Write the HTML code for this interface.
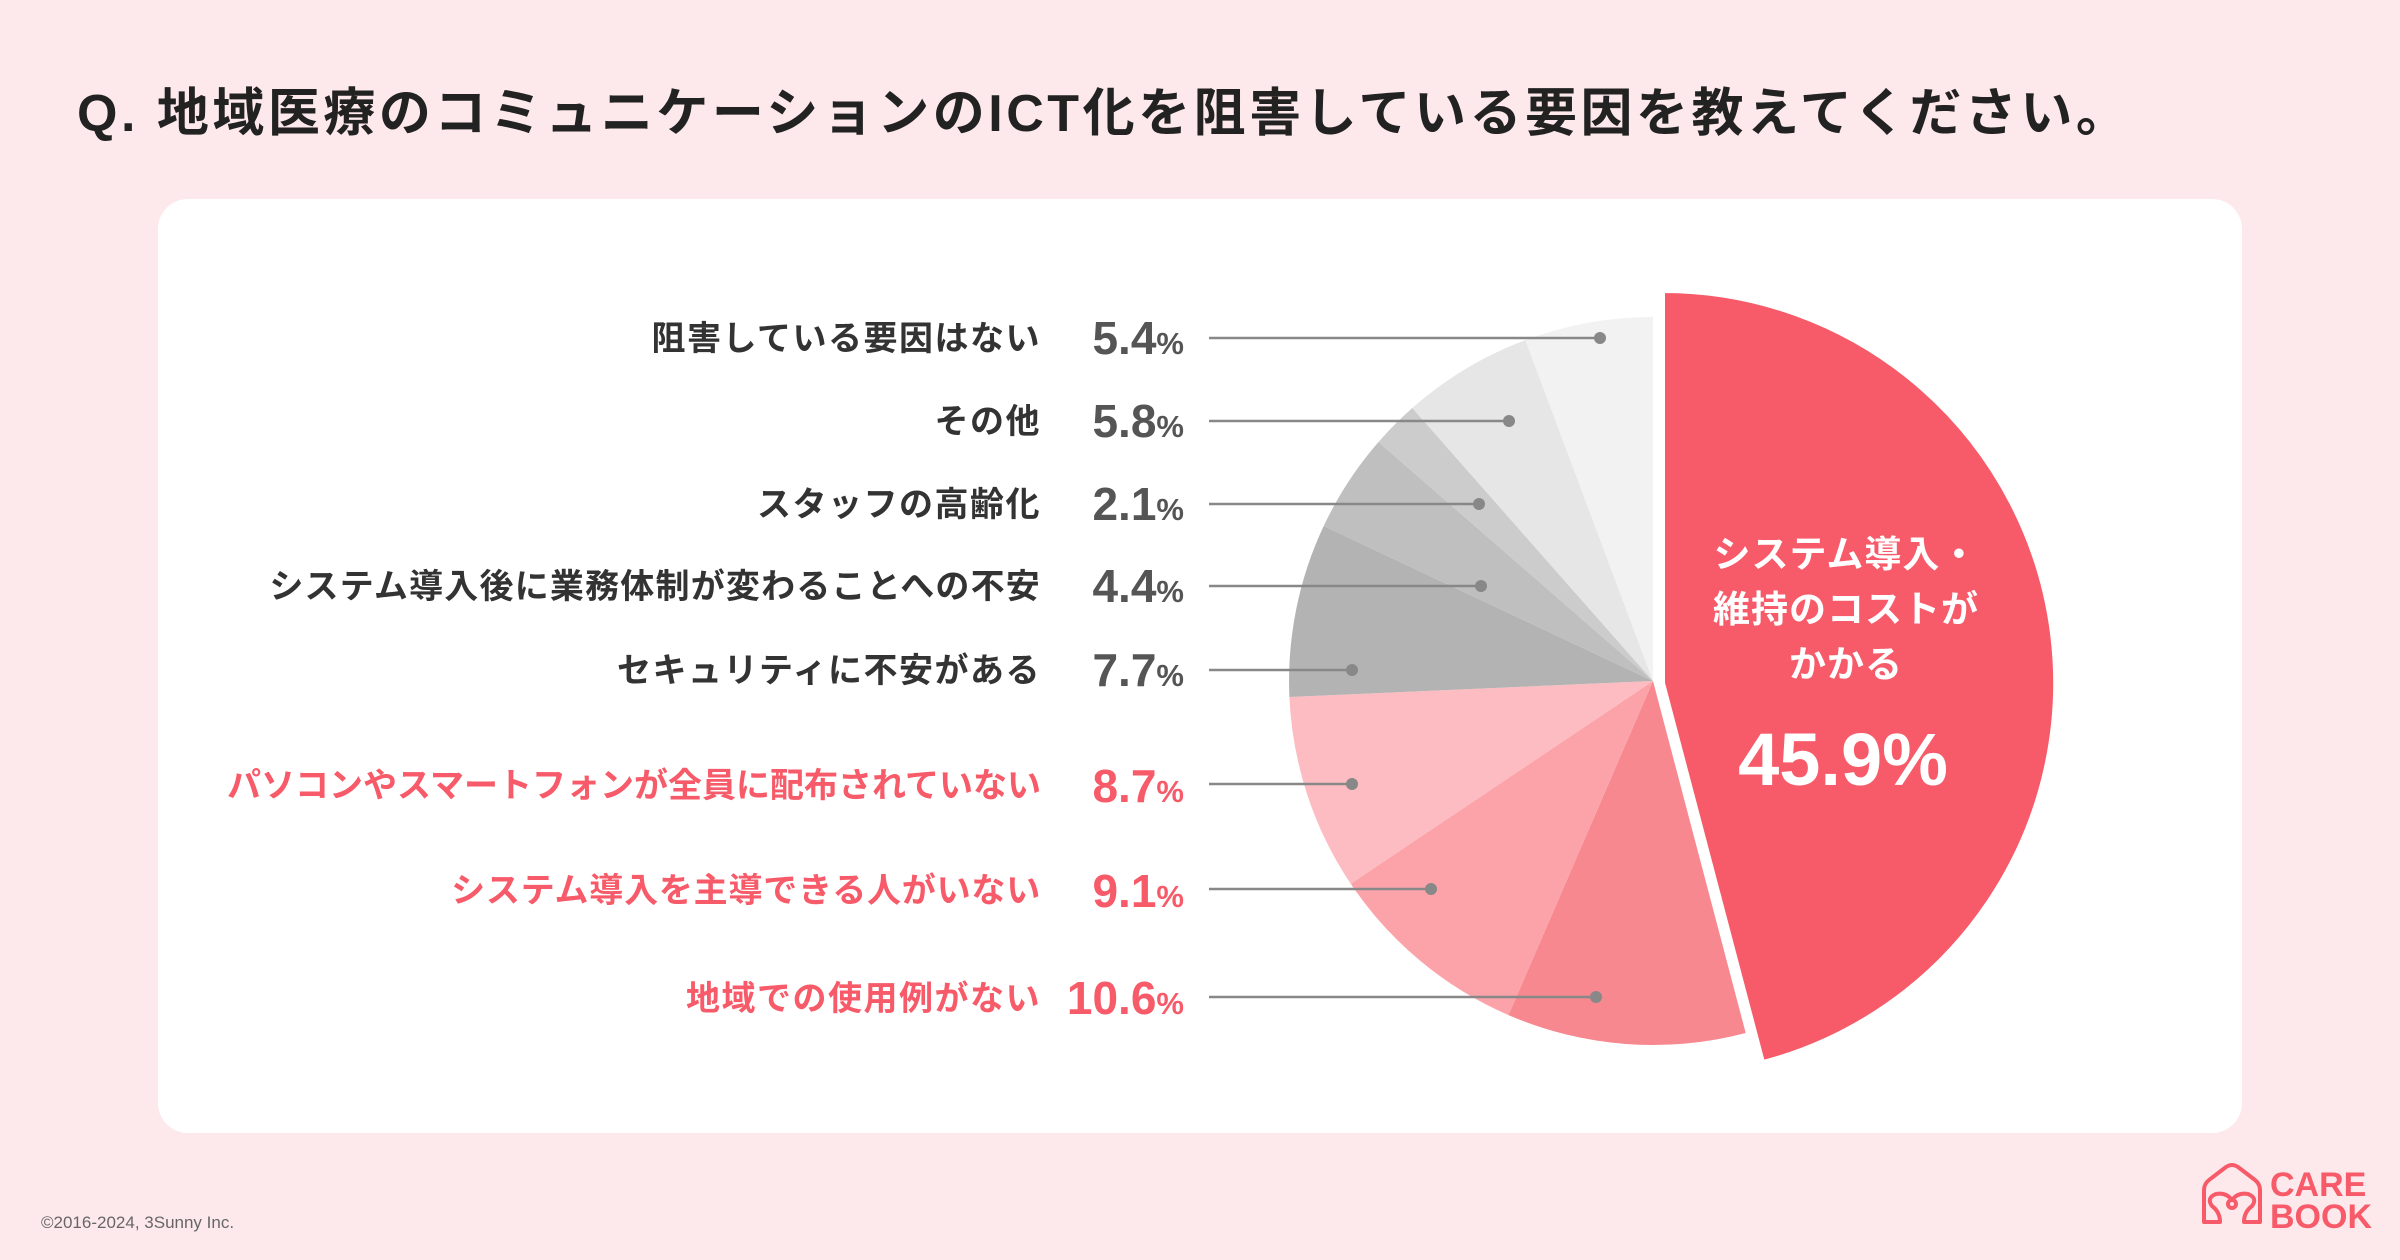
<!DOCTYPE html>
<html><head><meta charset="utf-8"><style>
html,body{margin:0;padding:0;background:#FDE9EC;}
svg{display:block;}
text{font-family:"Liberation Sans","Noto Sans CJK JP",sans-serif;}
</style></head><body>
<svg width="2400" height="1260" viewBox="0 0 2400 1260" xmlns="http://www.w3.org/2000/svg">
<rect width="2400" height="1260" fill="#FDE9EC"/>
<text x="77" y="131" font-size="52" font-weight="bold" fill="#222" letter-spacing="3.5">Q. 地域医療のコミュニケーションのICT化を阻害している要因を教えてください。</text>
<rect x="158" y="199" width="2084" height="934" rx="30" fill="#fff"/>

<g stroke="none">
<path d="M1653 681 L1745.7 1033.0 A364 364 0 0 1 1508.5 1015.1 Z" fill="#F7888F"/>
<path d="M1653 681 L1508.5 1015.1 A364 364 0 0 1 1350.7 883.7 Z" fill="#FCA3AA"/>
<path d="M1653 681 L1350.7 883.7 A364 364 0 0 1 1289.4 697.0 Z" fill="#FDBCC1"/>
<path d="M1653 681 L1289.4 697.0 A364 364 0 0 1 1323.7 526.0 Z" fill="#B3B3B3"/>
<path d="M1653 681 L1323.7 526.0 A364 364 0 0 1 1378.5 442.0 Z" fill="#BFBFBF"/>
<path d="M1653 681 L1378.5 442.0 A364 364 0 0 1 1412.3 408.0 Z" fill="#CCCCCC"/>
<path d="M1653 681 L1412.3 408.0 A364 364 0 0 1 1525.4 340.1 Z" fill="#E6E6E6"/>
<path d="M1653 681 L1525.4 340.1 A364 364 0 0 1 1653 317 Z" fill="#F2F2F2"/>
<path d="M1663 683 L1663 291 A392 392 0 0 1 1762.9 1062.1 Z" fill="#F75A68" stroke="#fff" stroke-width="4"/>
</g>

<g stroke="#888" stroke-width="2.5" fill="#888">
<line x1="1209" y1="338" x2="1600" y2="338"/><circle cx="1600" cy="338" r="6" stroke="none"/>
<line x1="1209" y1="421" x2="1509" y2="421"/><circle cx="1509" cy="421" r="6" stroke="none"/>
<line x1="1209" y1="504" x2="1479" y2="504"/><circle cx="1479" cy="504" r="6" stroke="none"/>
<line x1="1209" y1="586" x2="1481" y2="586"/><circle cx="1481" cy="586" r="6" stroke="none"/>
<line x1="1209" y1="670" x2="1352" y2="670"/><circle cx="1352" cy="670" r="6" stroke="none"/>
<line x1="1209" y1="784" x2="1352" y2="784"/><circle cx="1352" cy="784" r="6" stroke="none"/>
<line x1="1209" y1="889" x2="1431" y2="889"/><circle cx="1431" cy="889" r="6" stroke="none"/>
<line x1="1209" y1="997" x2="1596" y2="997"/><circle cx="1596" cy="997" r="6" stroke="none"/>
</g>

<g font-size="34" font-weight="bold" text-anchor="end" letter-spacing="1.5">
<text x="1041" y="350" fill="#333">阻害している要因はない</text>
<text x="1041" y="433" fill="#333">その他</text>
<text x="1041" y="516" fill="#333">スタッフの高齢化</text>
<text x="1041" y="598" fill="#333" letter-spacing="1.2">システム導入後に業務体制が変わることへの不安</text>
<text x="1041" y="682" fill="#333">セキュリティに不安がある</text>
<text x="1041" y="797" fill="#F75A68" letter-spacing="0">パソコンやスマートフォンが全員に配布されていない</text>
<text x="1041" y="902" fill="#F75A68" letter-spacing="0.8">システム導入を主導できる人がいない</text>
<text x="1041" y="1010" fill="#F75A68">地域での使用例がない</text>
</g>
<g font-weight="bold" text-anchor="end">
<text x="1184" y="354" fill="#555" font-size="46">5.4<tspan font-size="31">%</tspan></text>
<text x="1184" y="437" fill="#555" font-size="46">5.8<tspan font-size="31">%</tspan></text>
<text x="1184" y="520" fill="#555" font-size="46">2.1<tspan font-size="31">%</tspan></text>
<text x="1184" y="602" fill="#555" font-size="46">4.4<tspan font-size="31">%</tspan></text>
<text x="1184" y="686" fill="#555" font-size="46">7.7<tspan font-size="31">%</tspan></text>
<text x="1184" y="802" fill="#F75A68" font-size="46">8.7<tspan font-size="31">%</tspan></text>
<text x="1184" y="907" fill="#F75A68" font-size="46">9.1<tspan font-size="31">%</tspan></text>
<text x="1184" y="1014" fill="#F75A68" font-size="46">10.6<tspan font-size="31">%</tspan></text>
</g>

<g fill="#fff" font-weight="bold" text-anchor="middle">
<text x="1846" y="567" font-size="37" letter-spacing="1">システム導入・</text>
<text x="1846" y="622" font-size="37" letter-spacing="1">維持のコストが</text>
<text x="1846" y="677" font-size="37" letter-spacing="1">かかる</text>
<text x="1843" y="785" font-size="74">45.9%</text>
</g>

<text x="41" y="1228" font-size="17" fill="#666">©2016-2024, 3Sunny Inc.</text>

<g fill="none" stroke="#F75A68" stroke-width="4" stroke-linejoin="round" stroke-linecap="round">
<path d="M2204 1222 L2204 1190 Q2204 1184 2209 1180 L2226 1167 Q2232 1163 2238 1167 L2255 1180 Q2260 1184 2260 1190 L2260 1222 L2244 1222 Q2244 1212 2252 1206 Q2258 1198 2248 1194 Q2238 1192 2232 1200 Q2226 1192 2216 1194 Q2206 1198 2212 1206 Q2220 1212 2220 1222 Z"/>
<circle cx="2232" cy="1204" r="4"/>
</g>
<text x="2270" y="1196" font-size="34" font-weight="bold" fill="#F75A68">CARE</text>
<text x="2270" y="1228" font-size="34" font-weight="bold" fill="#F75A68">BOOK</text>
</svg>
</body></html>
